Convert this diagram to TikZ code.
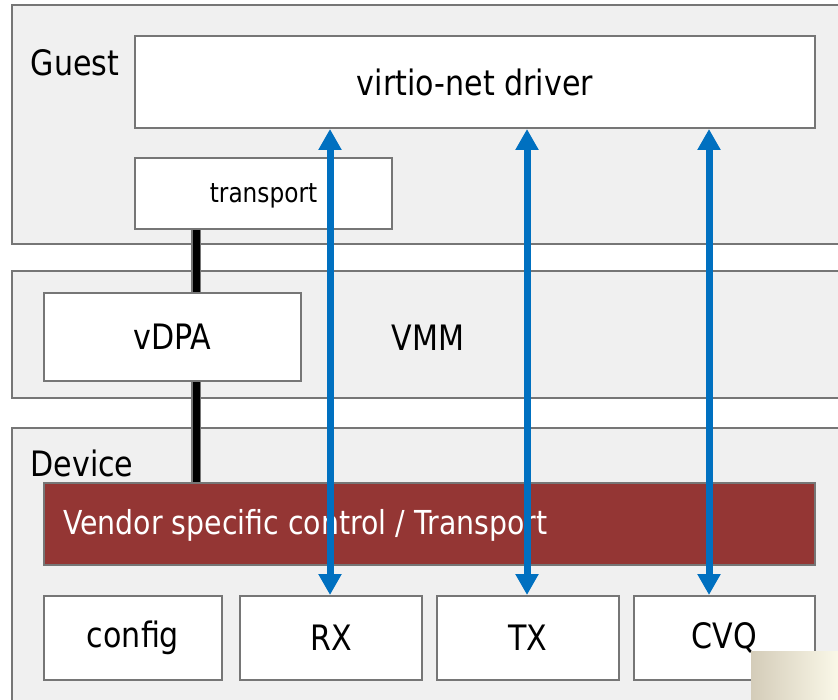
\documentclass[tikz,border=0pt]{standalone}
\usepackage{fontspec}
\setmainfont{DejaVu Sans}[FakeStretch=0.86]
\usetikzlibrary{arrows.meta}
\definecolor{layerfill}{HTML}{F0F0F0}
\definecolor{edgegray}{HTML}{767676}
\definecolor{vendorred}{HTML}{943634}
\definecolor{linkblue}{HTML}{0070C0}
\definecolor{patchtan}{HTML}{D4CCB9}
\definecolor{patchcream}{HTML}{FAF8E8}
\tikzset{
  layer/.style={draw=edgegray, line width=2pt, fill=layerfill, inner sep=0pt},
  box/.style={draw=edgegray, line width=2pt, fill=white, inner sep=0pt},
  bigtext/.style={font=\fontsize{35}{40}\selectfont, inner sep=0pt},
  smalltext/.style={font=\fontsize{27}{32}\selectfont},
  vendorbox/.style={draw=edgegray, line width=1.5pt, fill=vendorred, inner sep=0pt},
  datapath/.style={linkblue, line width=7pt,
    {Triangle[width=22pt,length=21pt]}-{Triangle[width=22pt,length=21pt]}},
}
\begin{document}
\begin{tikzpicture}[x=1pt, y=-1pt]
\useasboundingbox (0,0) rectangle (838,700);
\clip (0,0) rectangle (838,700);
\fill[white] (0,0) rectangle (838,700);

% layers
\node[layer, minimum width=838, minimum height=239] (guest) at (431,124.5) {};
\node[layer, minimum width=838, minimum height=127] (vmm) at (431,334.5) {};
\node[layer, minimum width=838, minimum height=292] (device) at (431,574) {};

\node[bigtext] (guestlbl) at (75,63) {Guest};
\node[bigtext] (vmmlbl) at (428,338) {VMM};
\node[bigtext] (devicelbl) at (82,463) {Device};

% guest side
\node[box, minimum width=680, minimum height=92, bigtext] (driver) at (475,82) {virtio-net driver};
\node[box, minimum width=257, minimum height=71, smalltext] (transport) at (263.5,193.5) {};
\node[smalltext, inner sep=0pt] (transportlbl) at (263.5,196) {transport};

% control path from the transport down to the device
\coordinate (ctop) at ([xshift=-67.5]transport.south);
\coordinate (cbot) at (ctop |- 0,483);
\draw[edgegray, line width=10pt] (ctop) -- (cbot);
\draw[black, line width=7pt] (ctop) -- (cbot);

% VMM side
\node[box, minimum width=257, minimum height=88, bigtext] (vdpa) at (172.5,337) {vDPA};

% device side
\node[vendorbox, minimum width=771, minimum height=82] (vendor) at (429.5,524) {};
\node[bigtext, font=\fontsize{33}{38}\selectfont, text=white, anchor=west] (vendortxt) at (63,525) {Vendor specific control / Transport};

\node[box, minimum width=178, minimum height=84, bigtext] (config) at (133,638) {config};
\node[box, minimum width=182, minimum height=84, bigtext] (rx) at (331,638) {RX};
\node[box, minimum width=182, minimum height=84, bigtext] (tx) at (528,638) {TX};
\node[box, minimum width=181, minimum height=84, bigtext] (cvq) at (724.5,638) {CVQ};

% data paths between driver and queues
\draw[datapath] ([xshift=-1]rx.north |- driver.south) -- ([xshift=-1]rx.north);
\draw[datapath] ([xshift=-1]tx.north |- driver.south) -- ([xshift=-1]tx.north);
\draw[datapath] ([xshift=-15.5]cvq.north |- driver.south) -- ([xshift=-15.5]cvq.north);

% corner patch
\shade[left color=patchtan, right color=patchcream] (751,651) rectangle (838,700);
\end{tikzpicture}
\end{document}
